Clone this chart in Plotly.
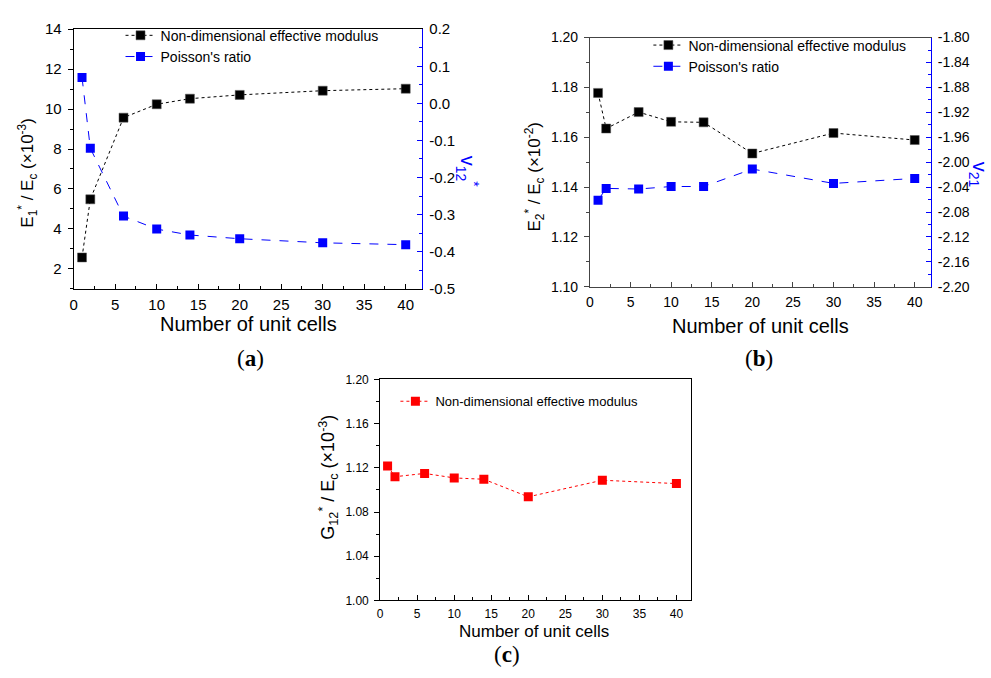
import plotly.graph_objects as go

W, H = 991, 678

# ---------------- data ----------------
cells = [1, 2, 6, 10, 14, 20, 30, 40]
E1 = [2.57, 5.48, 9.57, 10.24, 10.52, 10.71, 10.92, 11.02]
nu12 = [0.070, -0.121, -0.304, -0.339, -0.355, -0.365, -0.376, -0.381]
E2 = [1.1778, 1.1635, 1.1701, 1.1662, 1.1660, 1.1535, 1.1617, 1.1589]
nu21 = [-2.061, -2.042, -2.043, -2.039, -2.039, -2.011, -2.034, -2.026]
G12 = [1.1217, 1.1120, 1.1150, 1.1109, 1.1097, 1.0938, 1.1088, 1.1058]

# right-axis tick labels (hyphen minus, as in the reference)
nu12_ticks = [-0.5, -0.4, -0.3, -0.2, -0.1, 0.0, 0.1, 0.2]
nu12_ticktext = ["-0.5", "-0.4", "-0.3", "-0.2", "-0.1", "0.0", "0.1", "0.2"]
nu21_ticks = [-2.20, -2.16, -2.12, -2.08, -2.04, -2.00, -1.96, -1.92, -1.88, -1.84, -1.80]
nu21_ticktext = ["-2.20", "-2.16", "-2.12", "-2.08", "-2.04", "-2.00",
                 "-1.96", "-1.92", "-1.88", "-1.84", "-1.80"]

name_mod = "Non-dimensional effective modulus"
name_nu = "Poisson's ratio"
xtitle = "Number of unit cells"

BLUE = "#0000ff"
RED = "#ff0000"
FONT = "Liberation Sans, Arial, sans-serif"


def px(x):
    return x / W


def py(y):
    return 1 - y / H


fig = go.Figure()

mk = dict(symbol="square", size=9)
# panel a
fig.add_trace(go.Scatter(x=cells, y=E1, name=name_mod, mode="lines+markers",
                         line=dict(color="black", width=1, dash="dot"),
                         marker=dict(color="black", line=dict(color="#555", width=0.5), **mk),
                         xaxis="x", yaxis="y", legend="legend"))
fig.add_trace(go.Scatter(x=cells, y=nu12, name=name_nu, mode="lines+markers",
                         line=dict(color=BLUE, width=1, dash="dash"),
                         marker=dict(color=BLUE, **mk),
                         xaxis="x", yaxis="y2", legend="legend"))
# panel b
fig.add_trace(go.Scatter(x=cells, y=E2, name=name_mod, mode="lines+markers",
                         line=dict(color="black", width=1, dash="dot"),
                         marker=dict(color="black", line=dict(color="#555", width=0.5), **mk),
                         xaxis="x2", yaxis="y3", legend="legend2"))
fig.add_trace(go.Scatter(x=cells, y=nu21, name=name_nu, mode="lines+markers",
                         line=dict(color=BLUE, width=1, dash="dash"),
                         marker=dict(color=BLUE, **mk),
                         xaxis="x2", yaxis="y4", legend="legend2"))
# panel c
fig.add_trace(go.Scatter(x=cells, y=G12, name=name_mod, mode="lines+markers",
                         line=dict(color=RED, width=1, dash="dot"),
                         marker=dict(color=RED, **mk),
                         xaxis="x3", yaxis="y5", legend="legend3"))


def xax(domain, anchor, size, color="black"):
    return dict(domain=domain, anchor=anchor, range=[0, 42], dtick=5, tick0=0,
                showgrid=False, zeroline=False, showline=True, linecolor=color,
                linewidth=1, mirror=True, ticks="inside", ticklen=5, tickcolor=color,
                minor=dict(ticks="inside", ticklen=3, dtick=2.5, tick0=0, tickcolor=color),
                tickfont=dict(size=size, color="black", family=FONT), ticklabelstandoff=2)


def yax(domain, anchor, rng, dtick, mdtick, fmt, size, side="left", color="black",
        overlaying=None, ticks="outside", tick0=None):
    t0 = rng[0] if tick0 is None else tick0
    d = dict(domain=domain, anchor=anchor, range=rng, dtick=dtick, tick0=t0,
             showgrid=False, zeroline=False, showline=True, linecolor=color, linewidth=1,
             ticks=ticks, ticklen=5, tickcolor=color, side=side, tickformat=fmt,
             minor=dict(ticks=ticks, ticklen=3, dtick=mdtick, tick0=t0, tickcolor=color),
             tickfont=dict(size=size, color="black", family=FONT), ticklabelstandoff=3)
    if overlaying:
        d["overlaying"] = overlaying
    return d


# panel a geometry
ax_x = [px(70), px(420)]
ax_y = [py(287), py(20.7)]
# panel b geometry
bx_x = [px(588.3), px(930.7)]
bx_y = [py(285), py(29.3)]
# panel c geometry
cx_x = [px(377.7), px(690)]
cx_y = [py(606.7), py(380)]

y2 = yax(ax_y, "x", [-0.5, 0.2], 0.1, 0.05, ".1f", 15, side="right",
         color=BLUE, overlaying="y", ticks="inside")
y2.update(tickmode="array", tickvals=nu12_ticks, ticktext=nu12_ticktext)
y4 = yax(bx_y, "x2", [-2.20, -1.80], 0.04, 0.02, ".2f", 14, side="right",
         color=BLUE, overlaying="y3", ticks="inside")
y4.update(tickmode="array", tickvals=nu21_ticks, ticktext=nu21_ticktext)

fig.update_layout(
    width=W, height=H, margin=dict(l=0, r=0, t=0, b=0),
    paper_bgcolor="white", plot_bgcolor="white",
    font=dict(family=FONT, color="black"),
    xaxis=xax(ax_x, "y", 15),
    yaxis=yax(ax_y, "x", [1, 14], 2, 1, "d", 15, tick0=0),
    yaxis2=y2,
    xaxis2=xax(bx_x, "y3", 14, color="#444"),
    yaxis3=yax(bx_y, "x2", [1.10, 1.20], 0.02, 0.01, ".2f", 14, color="#444"),
    yaxis4=y4,
    xaxis3=xax(cx_x, "y5", 12),
    yaxis5=dict(yax(cx_y, "x3", [1.00, 1.20], 0.04, 0.02, ".2f", 12), mirror=True),
    legend=dict(x=px(117), y=py(11), xanchor="left", yanchor="top",
                bgcolor="rgba(0,0,0,0)", font=dict(size=14, family=FONT),
                tracegroupgap=0),
    legend2=dict(x=px(647), y=py(21), xanchor="left", yanchor="top",
                 bgcolor="rgba(0,0,0,0)", font=dict(size=14, family=FONT),
                 tracegroupgap=0),
    legend3=dict(x=px(393), y=py(387), xanchor="left", yanchor="top",
                 bgcolor="rgba(0,0,0,0)", font=dict(size=13, family=FONT),
                 tracegroupgap=0),
    showlegend=True,
)

ann = []


def add_text(text, x, y, size, angle=0, color="black", family=FONT):
    ann.append(dict(text=text, x=px(x), y=py(y), xref="paper", yref="paper",
                    xanchor="center", yanchor="middle", showarrow=False,
                    textangle=angle, font=dict(size=size, color=color, family=family)))


# x titles
add_text(xtitle, 245, 323, 20)
add_text(xtitle, 760, 325, 20)
add_text(xtitle, 532, 639, 17)
# y titles
add_text("E<sub>1</sub><sup>*</sup> / E<sub>c</sub> (×10<sup>-3</sup>)", 24, 168, 17, -90)
add_text("E<sub>2</sub><sup>*</sup> / E<sub>c</sub> (×10<sup>-2</sup>)", 533, 172, 17, -90)
add_text("G<sub>12</sub><sup>*</sup> / E<sub>c</sub> (×10<sup>-3</sup>)", 326, 480, 18, -90)
# right titles
add_text("v<sub>12</sub><sup>*</sup>", 465, 167, 20, 90, BLUE)
add_text("v<sub>21</sub>", 978, 170, 20, 90, BLUE)
# panel labels
SERIF = "Liberation Serif, Times New Roman, serif"
add_text("(<b>a</b>)", 248, 359, 23, family=SERIF)
add_text("(<b>b</b>)", 758, 359, 23, family=SERIF)
add_text("(<b>c</b>)", 505, 662, 23, family=SERIF)

fig.update_layout(annotations=ann)

fig.write_html("out.html")
